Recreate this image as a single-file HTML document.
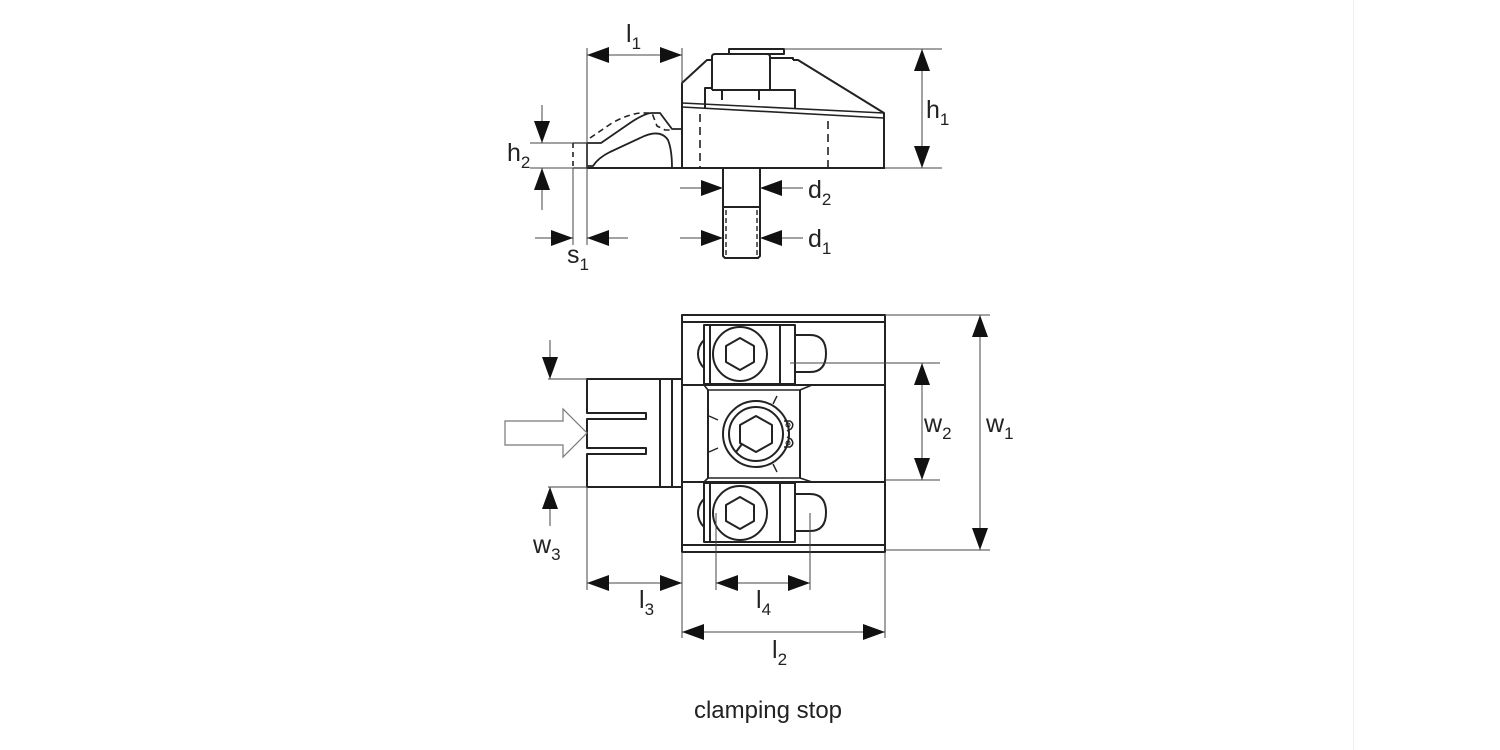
<!DOCTYPE html>
<html><head><meta charset="utf-8"><style>
html,body{margin:0;padding:0;background:#fff;}
svg{display:block;}
text{font-family:"Liberation Sans",Arial,sans-serif;fill:#222;}
</style></head><body>
<svg width="1500" height="750" viewBox="0 0 1500 750" xmlns="http://www.w3.org/2000/svg">
<defs>
<marker id="a" viewBox="0 0 22 16" refX="22" refY="8" markerWidth="22" markerHeight="16" markerUnits="userSpaceOnUse" orient="auto-start-reverse"><path d="M0,0 L22,8 L0,16 z" fill="#111"/></marker>
</defs>
<line x1="1353.5" y1="0" x2="1353.5" y2="750" stroke="#eee" stroke-width="1"/>

<g stroke="#222" stroke-width="2" fill="none" stroke-linejoin="round">
  <line x1="587" y1="168" x2="885" y2="168"/>
  <polyline points="682,168 682,83 707,60 712,60"/>
  <path d="M712,90 L712,57 Q712,54 715,54 L767,54 Q770,54 770,57 L770,90"/>
  <rect x="729" y="49" width="55" height="5"/>
  <polyline points="770,58 793,58 793,60"/>
  <polyline points="793,60 798,60 884,113 884,168"/>
  <polyline points="705,108 705,88 712,88"/>
  <polyline points="770,90 795,90 795,108"/>
  <line x1="712" y1="90" x2="770" y2="90"/>
  <line x1="722" y1="90" x2="722" y2="100"/>
  <line x1="759" y1="90" x2="759" y2="100"/>
  <line x1="682" y1="103" x2="884" y2="113" stroke-width="1.6"/>
  <line x1="682" y1="107" x2="884" y2="118" stroke-width="1.6"/>
  <line x1="700" y1="114" x2="700" y2="168" stroke-dasharray="8,5" stroke-width="1.6"/>
  <line x1="828" y1="121" x2="828" y2="168" stroke-dasharray="8,5" stroke-width="1.6"/>
  <path d="M587,168 L587,143 L601,143 L630,123 Q645,113 652,113 L660,113 L672,129 L682,129" stroke-width="1.8"/>
  <path d="M587,166 L593,166 Q598,158 610,152 L640,138 Q660,128 668,140 Q672,150 672,168" stroke-width="1.8"/>
  <path d="M590,138 L612,123 Q632,112 646,113 L652,113 L657,126 L665,130 L672,130" stroke-dasharray="6,4" stroke-width="1.6"/>
  <line x1="573" y1="143" x2="573" y2="168" stroke-dasharray="5,4" stroke-width="1.6"/>
  <line x1="573" y1="143" x2="587" y2="143" stroke-width="1.2"/>
  <line x1="573" y1="168" x2="587" y2="168" stroke-width="1.2"/>
  <polyline points="723,168 723,256 725,258 758,258 760,256 760,168"/>
  <line x1="723" y1="207" x2="760" y2="207"/>
  <line x1="726" y1="210" x2="726" y2="255" stroke-dasharray="5,3" stroke-width="1.4"/>
  <line x1="757" y1="210" x2="757" y2="255" stroke-dasharray="5,3" stroke-width="1.4"/>
</g>
<g stroke="#444" stroke-width="1" fill="none">
  <line x1="587" y1="48" x2="587" y2="245"/>
  <line x1="682" y1="48" x2="682" y2="84"/>
  <line x1="587" y1="55" x2="682" y2="55" marker-start="url(#a)" marker-end="url(#a)"/>
  <line x1="784" y1="49" x2="942" y2="49"/>
  <line x1="885" y1="168" x2="942" y2="168"/>
  <line x1="922" y1="49" x2="922" y2="168" marker-start="url(#a)" marker-end="url(#a)"/>
  <line x1="530" y1="143" x2="573" y2="143"/>
  <line x1="530" y1="168" x2="573" y2="168"/>
  <line x1="542" y1="105" x2="542" y2="143" marker-end="url(#a)"/>
  <line x1="542" y1="210" x2="542" y2="168" marker-end="url(#a)"/>
  <line x1="573" y1="168" x2="573" y2="245"/>
  <line x1="535" y1="238" x2="573" y2="238" marker-end="url(#a)"/>
  <line x1="628" y1="238" x2="587" y2="238" marker-end="url(#a)"/>
  <line x1="680" y1="188" x2="723" y2="188" marker-end="url(#a)"/>
  <line x1="803" y1="188" x2="760" y2="188" marker-end="url(#a)"/>
  <line x1="680" y1="238" x2="723" y2="238" marker-end="url(#a)"/>
  <line x1="803" y1="238" x2="760" y2="238" marker-end="url(#a)"/>
</g>
<g font-size="25">
  <text x="626" y="42">l<tspan font-size="17" dy="7">1</tspan></text>
  <text x="926" y="118">h<tspan font-size="17" dy="7">1</tspan></text>
  <text x="507" y="161">h<tspan font-size="17" dy="7">2</tspan></text>
  <text x="808" y="198">d<tspan font-size="17" dy="7">2</tspan></text>
  <text x="808" y="247">d<tspan font-size="17" dy="7">1</tspan></text>
  <text x="567" y="263">s<tspan font-size="17" dy="7">1</tspan></text>
</g>

<g stroke="#222" stroke-width="2" fill="none" stroke-linejoin="round">
  <rect x="682" y="315" width="203" height="237"/>
  <line x1="682" y1="322" x2="885" y2="322"/>
  <line x1="682" y1="545" x2="885" y2="545"/>
  <line x1="682" y1="385" x2="885" y2="385"/>
  <line x1="682" y1="482" x2="885" y2="482"/>
  <rect x="704" y="325" width="91" height="59" fill="#fff"/>
  <line x1="710" y1="325" x2="710" y2="384"/>
  <line x1="780" y1="325" x2="780" y2="384"/>
  <circle cx="740" cy="354" r="27"/>
  <polygon points="740,338 754,346 754,362 740,370 726,362 726,346"/>
  <path d="M704,340 Q698,346 698,354 Q698,362 704,368"/>
  <path d="M795,335 L810,335 Q826,335 826,353.5 Q826,372 810,372 L795,372"/>
  <rect x="704" y="483" width="91" height="59" fill="#fff"/>
  <line x1="710" y1="483" x2="710" y2="542"/>
  <line x1="780" y1="483" x2="780" y2="542"/>
  <circle cx="740" cy="513" r="27"/>
  <polygon points="740,497 754,505 754,521 740,529 726,521 726,505"/>
  <path d="M704,499 Q698,505 698,513 Q698,521 704,527"/>
  <path d="M795,494 L810,494 Q826,494 826,512.5 Q826,531 810,531 L795,531"/>
  <line x1="708" y1="390" x2="708" y2="478"/>
  <line x1="800" y1="390" x2="800" y2="478"/>
  <polyline points="704,385 708,390 800,390 812,385" stroke-width="1.6"/>
  <polyline points="704,482 708,478 800,478 812,482" stroke-width="1.6"/>
  <circle cx="756" cy="434" r="33"/>
  <circle cx="756" cy="434" r="27"/>
  <polygon points="756,416 772,425 772,443 756,452 740,443 740,425"/>
  <line x1="742" y1="444" x2="736" y2="452"/>
  <path d="M784,421 L790,421 Q795,424 791,429 L787,431 M787,437 L791,439 Q795,444 790,447 L784,447" stroke-width="1.5"/>
  <circle cx="788" cy="425" r="2" stroke-width="1"/>
  <circle cx="788" cy="443" r="2" stroke-width="1"/>
  <g stroke-width="1.4">
    <line x1="709" y1="416" x2="718" y2="420"/>
    <line x1="709" y1="452" x2="718" y2="448"/>
    <line x1="777" y1="396" x2="773" y2="404"/>
    <line x1="777" y1="472" x2="773" y2="464"/>
  </g>
  <path d="M682,379 L587,379 L587,413 L646,413 L646,419 L587,419 L587,448 L646,448 L646,454 L587,454 L587,487 L682,487"/>
  <line x1="660" y1="379" x2="660" y2="487"/>
  <line x1="672" y1="379" x2="672" y2="487"/>
</g>
<polygon points="505,421 563,421 563,409 587,433 563,457 563,445 505,445" fill="none" stroke="#777" stroke-width="1.2"/>
<g stroke="#444" stroke-width="1" fill="none">
  <line x1="548" y1="379" x2="587" y2="379"/>
  <line x1="548" y1="487" x2="587" y2="487"/>
  <line x1="550" y1="340" x2="550" y2="379" marker-end="url(#a)"/>
  <line x1="550" y1="526" x2="550" y2="487" marker-end="url(#a)"/>
  <line x1="790" y1="363" x2="940" y2="363"/>
  <line x1="885" y1="480" x2="940" y2="480"/>
  <line x1="922" y1="363" x2="922" y2="480" marker-start="url(#a)" marker-end="url(#a)"/>
  <line x1="885" y1="315" x2="990" y2="315"/>
  <line x1="885" y1="550" x2="990" y2="550"/>
  <line x1="980" y1="315" x2="980" y2="550" marker-start="url(#a)" marker-end="url(#a)"/>
  <line x1="587" y1="487" x2="587" y2="590"/>
  <line x1="716" y1="513" x2="716" y2="590"/>
  <line x1="810" y1="513" x2="810" y2="590"/>
  <line x1="682" y1="552" x2="682" y2="638"/>
  <line x1="885" y1="552" x2="885" y2="638"/>
  <line x1="587" y1="583" x2="682" y2="583" marker-start="url(#a)" marker-end="url(#a)"/>
  <line x1="716" y1="583" x2="810" y2="583" marker-start="url(#a)" marker-end="url(#a)"/>
  <line x1="682" y1="632" x2="885" y2="632" marker-start="url(#a)" marker-end="url(#a)"/>
</g>
<g font-size="25">
  <text x="533" y="553">w<tspan font-size="17" dy="7">3</tspan></text>
  <text x="924" y="432">w<tspan font-size="17" dy="7">2</tspan></text>
  <text x="986" y="432">w<tspan font-size="17" dy="7">1</tspan></text>
  <text x="639" y="608">l<tspan font-size="17" dy="7">3</tspan></text>
  <text x="756" y="608">l<tspan font-size="17" dy="7">4</tspan></text>
  <text x="772" y="658">l<tspan font-size="17" dy="7">2</tspan></text>
</g>
<text x="768" y="718" font-size="24" text-anchor="middle">clamping stop</text>
</svg>
</body></html>
